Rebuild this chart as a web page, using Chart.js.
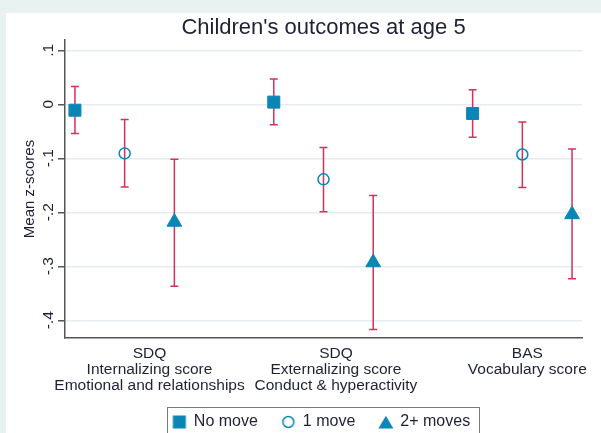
<!DOCTYPE html>
<html>
<head>
<meta charset="utf-8">
<script src="https://cdn.jsdelivr.net/npm/chart.js@4/dist/chart.umd.min.js"></script>
<style>
  html, body { margin: 0; padding: 0; width: 601px; height: 433px; overflow: hidden; background: #e8f2f1; }
  #wrap { position: absolute; left: 6px; top: 13px; width: 595px; height: 420px; background: #ffffff; }
  canvas { display: block; }
</style>
</head>
<body>
<div id="wrap"><canvas id="chart" width="595" height="420"></canvas></div>
<script>
// Outcome groups (multi-line axis labels) and where each group sits on the x scale
const outcomes = [
  ['SDQ', 'Internalizing score', 'Emotional and relationships'],
  ['SDQ', 'Externalizing score', 'Conduct & hyperactivity'],
  ['BAS', 'Vocabulary score']
];
const outcomeSlots = [1, 5, 9];          // first marker of each group
const outcomeLabelSlots = [2.5, 6.25, 10.1];

const seriesNames = ['No move', '1 move', '2+ moves'];

// Mean z-scores with 95% confidence limits, one value per outcome
const noMoveMean = [-0.011, 0.004, -0.017];
const noMoveLow  = [-0.054, -0.038, -0.061];
const noMoveHigh = [0.033, 0.047, 0.027];

const oneMoveMean = [-0.091, -0.139, -0.093];
const oneMoveLow  = [-0.153, -0.199, -0.154];
const oneMoveHigh = [-0.028, -0.080, -0.033];

const twoPlusMean = [-0.218, -0.293, -0.204];
const twoPlusLow  = [-0.337, -0.417, -0.323];
const twoPlusHigh = [-0.102, -0.169, -0.083];

const yTicks = [-0.4, -0.3, -0.2, -0.1, 0, 0.1];
const yTickLabels = ['-.4', '-.3', '-.2', '-.1', '0', '.1'];

const chartTitle = "Children's outcomes at age 5";
const yTitle = 'Mean z-scores';

const FONT = '"Liberation Sans", Arial, Helvetica, sans-serif';
const TEXT = '#1d2235';
const MARK = '#0a86b6';
const CI = '#d4325a';
const AXIS = '#555555';
const GRID = '#e4ecf0';

function points(means, offset) {
  return means.map((m, k) => ({ x: outcomeSlots[k] + offset, y: m }));
}

// Small legend symbols sized like the plotted markers
function icon(draw) {
  const c = document.createElement('canvas');
  c.width = 16; c.height = 16;
  const g = c.getContext('2d');
  g.fillStyle = MARK; g.strokeStyle = MARK; g.lineWidth = 1.5;
  draw(g);
  return c;
}
const legendIcons = [
  icon(g => g.fillRect(1.5, 1.5, 13, 13)),
  icon(g => { g.beginPath(); g.arc(8, 8, 5.5, 0, Math.PI * 2); g.stroke(); }),
  icon(g => { g.beginPath(); g.moveTo(8, 1.8); g.lineTo(15.5, 14.5); g.lineTo(0.5, 14.5); g.closePath(); g.fill(); })
];

const extras = {
  id: 'extras',
  afterLayout(chart) {
    // let the three-line category labels extend below the axis box
    const xs = chart.scales.x;
    xs.bottom += 30;
    const lg = chart.legend;
    if (!lg) return;
    const dx = 315.5 - (lg.left + lg.right) / 2;
    lg.left += dx; lg.right += dx;
    const dy = 377 - lg.top;
    lg.top += dy; lg.bottom += dy;
  },
  beforeDatasetsDraw(chart) {
    const ctx = chart.ctx, xs = chart.scales.x, ys = chart.scales.y;
    ctx.save();
    ctx.strokeStyle = CI;
    ctx.lineWidth = 1.5;
    chart.data.datasets.forEach(ds => {
      ds.data.forEach((pt, k) => {
        const x = xs.getPixelForValue(pt.x);
        const yh = ys.getPixelForValue(ds.ciHigh[k]);
        const yl = ys.getPixelForValue(ds.ciLow[k]);
        ctx.beginPath();
        ctx.moveTo(x, yh); ctx.lineTo(x, yl);
        ctx.moveTo(x - 4, yh); ctx.lineTo(x + 4, yh);
        ctx.moveTo(x - 4, yl); ctx.lineTo(x + 4, yl);
        ctx.stroke();
      });
    });
    ctx.restore();
  },
  afterDraw(chart) {
    const ctx = chart.ctx, ca = chart.chartArea, ys = chart.scales.y;
    ctx.save();
    ctx.fillStyle = TEXT;
    // title
    ctx.font = '22px ' + FONT;
    ctx.textAlign = 'center';
    ctx.textBaseline = 'alphabetic';
    ctx.fillText(chartTitle, (ca.left + ca.right) / 2, 20.5);
    // rotated y tick labels
    ctx.font = '15.5px ' + FONT;
    yTicks.forEach((v, i) => {
      const py = ys.getPixelForValue(v);
      ctx.save();
      ctx.translate(47, py);
      ctx.rotate(-Math.PI / 2);
      ctx.fillText(yTickLabels[i], 0, 0);
      ctx.restore();
    });
    // legend frame
    const lg = chart.legend;
    if (lg) {
      const pad = lg.options.labels.padding;
      const w = lg.lineWidths[0] - pad;
      const start = (lg.left + lg.right) / 2 - w / 2;
      ctx.strokeStyle = '#7a7a7a';
      ctx.lineWidth = 1;
      ctx.strokeRect(Math.round(start - 6) + 0.5, Math.round(lg.top + 17) + 0.5, Math.round(w + 15), 60);
    }
    ctx.restore();
  }
};

new Chart(document.getElementById('chart'), {
  type: 'scatter',
  data: {
    datasets: [
      {
        label: seriesNames[0], data: points(noMoveMean, 0), ciLow: noMoveLow, ciHigh: noMoveHigh,
        pointStyle: 'rect', pointRadius: 8.5, borderWidth: 1,
        backgroundColor: MARK, borderColor: MARK
      },
      {
        label: seriesNames[1], data: points(oneMoveMean, 1), ciLow: oneMoveLow, ciHigh: oneMoveHigh,
        pointStyle: 'circle', pointRadius: 5.5, borderWidth: 1.5,
        backgroundColor: 'rgba(0,0,0,0)', borderColor: MARK
      },
      {
        label: seriesNames[2], data: points(twoPlusMean, 2), ciLow: twoPlusLow, ciHigh: twoPlusHigh,
        pointStyle: 'triangle', pointRadius: 8.5, borderWidth: 1,
        backgroundColor: MARK, borderColor: MARK
      }
    ]
  },
  options: {
    responsive: false,
    animation: false,
    devicePixelRatio: 1,
    layout: { padding: { top: 27, right: 19, left: 0, bottom: 0 } },
    plugins: {
      tooltip: { enabled: false },
      title: { display: false },
      legend: {
        position: 'bottom',
        align: 'center',
        labels: {
          usePointStyle: true,
          boxWidth: 13,
          boxHeight: 13,
          padding: 24,
          color: TEXT,
          font: { size: 16, family: FONT },
          generateLabels(chart) {
            const items = Chart.defaults.plugins.legend.labels.generateLabels(chart);
            items.forEach((it, i) => { it.pointStyle = legendIcons[i]; });
            return items;
          }
        }
      }
    },
    scales: {
      x: {
        type: 'linear',
        min: 0.8,
        max: 11.2,
        grid: { display: false, drawTicks: false },
        border: { display: true, color: AXIS, width: 1.5 },
        afterBuildTicks(s) { s.ticks = outcomeLabelSlots.map(v => ({ value: v })); },
        afterFit(s) { s.height = 45; s.paddingLeft = 0; s.paddingRight = 0; },
        ticks: {
          autoSkip: false,
          maxRotation: 0,
          minRotation: 0,
          padding: 8,
          color: TEXT,
          font: { size: 15.5, family: FONT, lineHeight: 1.03 },
          callback(v, i) { return outcomes[i]; }
        }
      },
      y: {
        type: 'linear',
        min: -0.4328,
        max: 0.119,
        afterBuildTicks(s) { s.ticks = yTicks.map(v => ({ value: v })); },
        afterFit(s) { s.width = 59; s.paddingTop = 0; s.paddingBottom = 0; },
        grid: { color: GRID, lineWidth: 1.5, drawTicks: true, tickLength: 7, tickColor: AXIS, tickWidth: 1.5 },
        border: { display: true, color: AXIS, width: 1.5 },
        ticks: { display: false },
        title: {
          display: true,
          text: yTitle,
          color: TEXT,
          font: { size: 15, family: FONT },
          padding: { top: 15, bottom: 0 }
        }
      }
    }
  },
  plugins: [extras]
});
</script>
</body>
</html>
